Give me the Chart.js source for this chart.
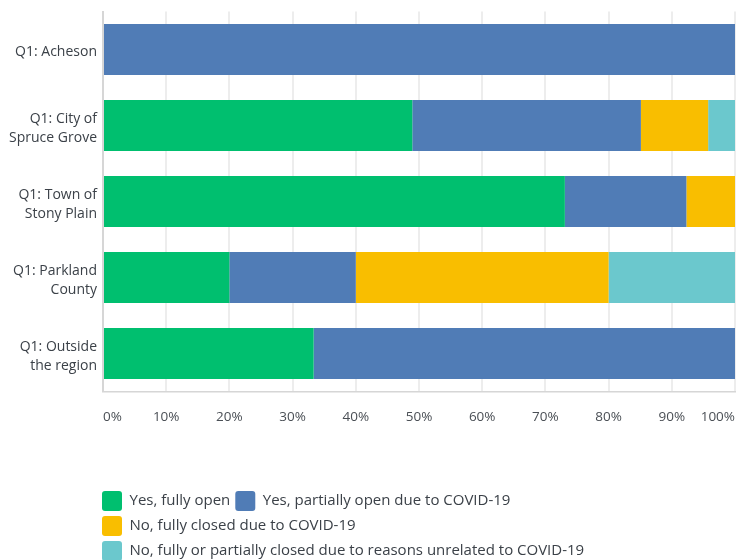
<!DOCTYPE html>
<html>
<head>
<meta charset="utf-8">
<script src="https://cdn.jsdelivr.net/npm/chart.js@4"></script>
<style>
  html, body { margin: 0; padding: 0; background: #ffffff; }
  #wrap { width: 738px; height: 560px; position: relative; }
</style>
</head>
<body>
<div id="wrap"><canvas id="c"></canvas></div>
<script>
const categories = [
  ["Q1: Acheson"],
  ["Q1: City of", "Spruce Grove"],
  ["Q1: Town of", "Stony Plain"],
  ["Q1: Parkland", "County"],
  ["Q1: Outside", "the region"]
];
const seriesNames = [
  "Yes, fully open",
  "Yes, partially open due to COVID-19",
  "No, fully closed due to COVID-19",
  "No, fully or partially closed due to reasons unrelated to COVID-19"
];
const fullyOpen      = [0, 48.94, 73.08, 20, 33.33];
const partiallyOpen  = [100, 36.17, 19.23, 20, 66.67];
const closedCovid    = [0, 10.64, 7.69, 40, 0];
const closedOther    = [0, 4.26, 0, 20, 0];
const xTicks = [0, 10, 20, 30, 40, 50, 60, 70, 80, 90, 100];
const colors = ["#00BF6F", "#507CB6", "#F9BE00", "#6BC8CD"];

const FONT = "'Open Sans', 'Noto Sans', sans-serif";
const seriesValues = [fullyOpen, partiallyOpen, closedCovid, closedOther];

const legendPlacer = {
  id: 'legendPlacer',
  afterLayout(chart) {
    const lg = chart.legend;
    const pad = lg.options.labels.padding;
    lg.left = 102 - pad;
    lg.right = 650;
    lg.top = 491 - pad;
    // nudge category labels down slightly
    const ys = chart.scales.y;
    if (ys && !ys._nudged) {
      const orig = ys._computeLabelItems.bind(ys);
      ys._computeLabelItems = function (ca) {
        const items = orig(ca);
        items.forEach(it => { it.options.translation[1] += 3; });
        return items;
      };
      ys._nudged = true;
      ys._labelItems = null;
    }
  }
};

function noScalePadding(scale) {
  scale.paddingTop = 0;
  scale.paddingBottom = 0;
  scale.paddingLeft = 0;
  scale.paddingRight = 0;
}

new Chart(document.getElementById('c'), {
  type: 'bar',
  data: {
    labels: categories,
    datasets: seriesNames.map((name, i) => ({
      label: name,
      data: seriesValues[i],
      backgroundColor: colors[i],
      borderWidth: 0,
      categoryPercentage: 1,
      barPercentage: 0.67
    }))
  },
  options: {
    indexAxis: 'y',
    responsive: true,
    maintainAspectRatio: false,
    animation: false,
    layout: { padding: { top: 11.5, right: 3, left: 0, bottom: 0 } },
    scales: {
      x: {
        stacked: true,
        min: 0,
        max: 100,
        afterBuildTicks(scale) {
          scale.ticks = xTicks.map(v => ({ value: v }));
        },
        afterFit(scale) {
          const lgH = scale.chart.legend ? scale.chart.legend.height : 0;
          scale.height = (560 - lgH) - 391.5;
          noScalePadding(scale);
        },
        grid: { color: '#ededed', lineWidth: 2, drawTicks: false },
        border: { display: true, color: '#d6d6d6', width: 1.5 },
        ticks: {
          align: 'inner',
          padding: 18,
          color: '#4a4f55',
          font: { family: FONT, size: 13.5 },
          callback: v => v + '%'
        }
      },
      y: {
        stacked: true,
        afterFit(scale) { scale.width = 103; noScalePadding(scale); },
        grid: { display: false, drawTicks: false },
        border: { display: true, color: '#d6d6d6', width: 2 },
        ticks: {
          padding: 6,
          color: '#3b4148',
          font: { family: FONT, size: 14, lineHeight: 1.42 }
        }
      }
    },
    plugins: {
      legend: {
        position: 'bottom',
        align: 'start',
        labels: {
          boxWidth: 20,
          boxHeight: 20,
          padding: 5,
          useBorderRadius: true,
          borderRadius: 3,
          color: '#3b4148',
          font: { family: FONT, size: 15 }
        }
      },
      tooltip: { enabled: false }
    }
  },
  plugins: [legendPlacer]
});
</script>
</body>
</html>
